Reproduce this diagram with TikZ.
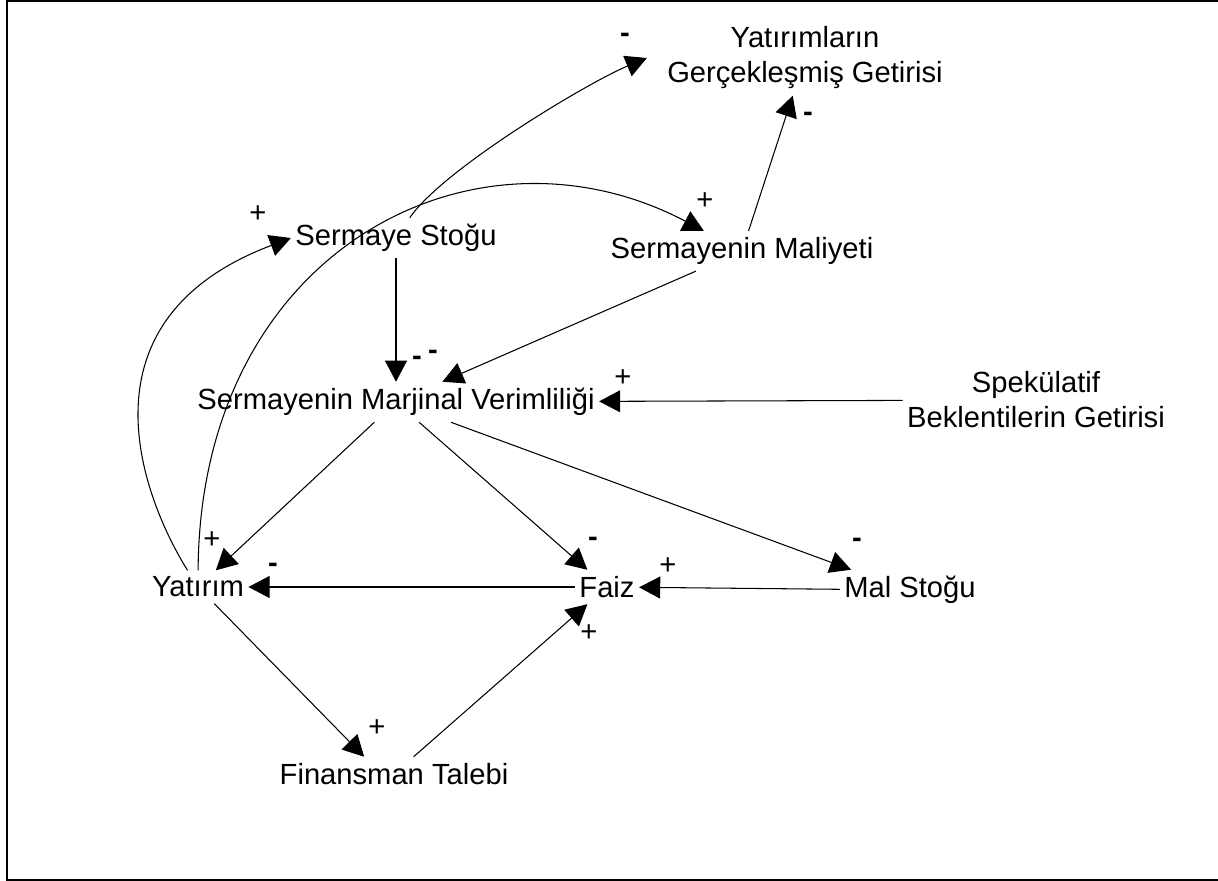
\documentclass[tikz,border=0pt]{standalone}
\usepackage{fontspec}
\setmainfont{Liberation Sans}
\usetikzlibrary{arrows.meta}

\begin{document}
\begin{tikzpicture}[x=0.02cm,y=-0.02cm,line width=0.6pt,
        >={Triangle[length=12pt,width=12.5pt]},
        varbox/.style={font=\fontsize{16.6}{19.9}\selectfont,align=center,inner xsep=2.3pt,inner ysep=3.4pt},
        polarity/.style={font=\fontsize{16.6}{19.9}\selectfont,inner sep=0pt}]
        \useasboundingbox (0,0) rectangle (1218,881);
        \draw[line width=1.2pt] (1240,1) -- (7,1) -- (7,880) -- (1240,880);

        \node[varbox,inner xsep=11.3pt] (getiri) at (805,58) {Yatırımların\\Gerçekleşmiş Getirisi};
        \node[varbox] (stok) at (396,238) {Sermaye Stoğu};
        \node[varbox] (maliyet) at (742,251) {Sermayenin Maliyeti};
        \node[varbox] (verim) at (396,402) {Sermayenin Marjinal Verimliliği};
        \node[varbox] (spek) at (1036,400) {Spekülatif\\Beklentilerin Getirisi};
        \node[varbox] (yatirim) at (198,587) {Yatırım};
        \node[varbox] (faiz) at (607,587) {Faiz};
        \node[varbox] (mal) at (910,590) {Mal Stoğu};
        \node[varbox] (talep) at (394,774) {Finansman Talebi};

        \path [draw,->] (stok) .. controls (443,169) and (589,82) .. (getiri.west);
        \path [draw,->] (yatirim) .. controls (146,504) and (69,322) .. (stok.west);
        \path [draw,->] (yatirim) .. controls (200,250) and (474,110) .. (maliyet);
        \path [draw,->] (stok) to (verim);
        \path [draw,->] (maliyet) to (verim);
        \path [draw,->] (maliyet) to (getiri);
        \path [draw,->] (spek) to (verim);
        \path [draw,->] (verim) to (yatirim);
        \path [draw,->] (verim) to (faiz);
        \path [draw,->] (verim) to (mal.161);
        \path [draw,->] (faiz) to (yatirim);
        \path [draw,->] (mal) to (faiz);
        \path [draw,->] (yatirim) to (talep.150);
        \path [draw,->] (talep) to (faiz);

        \node[polarity] (p1) at (625,38) {\textbf{-}};
        \node[polarity] (p2) at (258,214) {+};
        \node[polarity] (p3) at (705,201) {+};
        \node[polarity] (p4) at (417,361) {\textbf{-}};
        \node[polarity] (p5) at (433,355) {\textbf{-}};
        \node[polarity] (p6) at (808,117) {\textbf{-}};
        \node[polarity] (p7) at (623,378) {+};
        \node[polarity] (p8) at (212,540) {+};
        \node[polarity] (p9) at (593,542) {\textbf{-}};
        \node[polarity] (p10) at (857,543) {\textbf{-}};
        \node[polarity] (p11) at (273,568) {\textbf{-}};
        \node[polarity] (p12) at (668,566) {+};
        \node[polarity] (p13) at (377,728) {+};
        \node[polarity] (p14) at (589,633) {+};
    \end{tikzpicture}
\end{document}
